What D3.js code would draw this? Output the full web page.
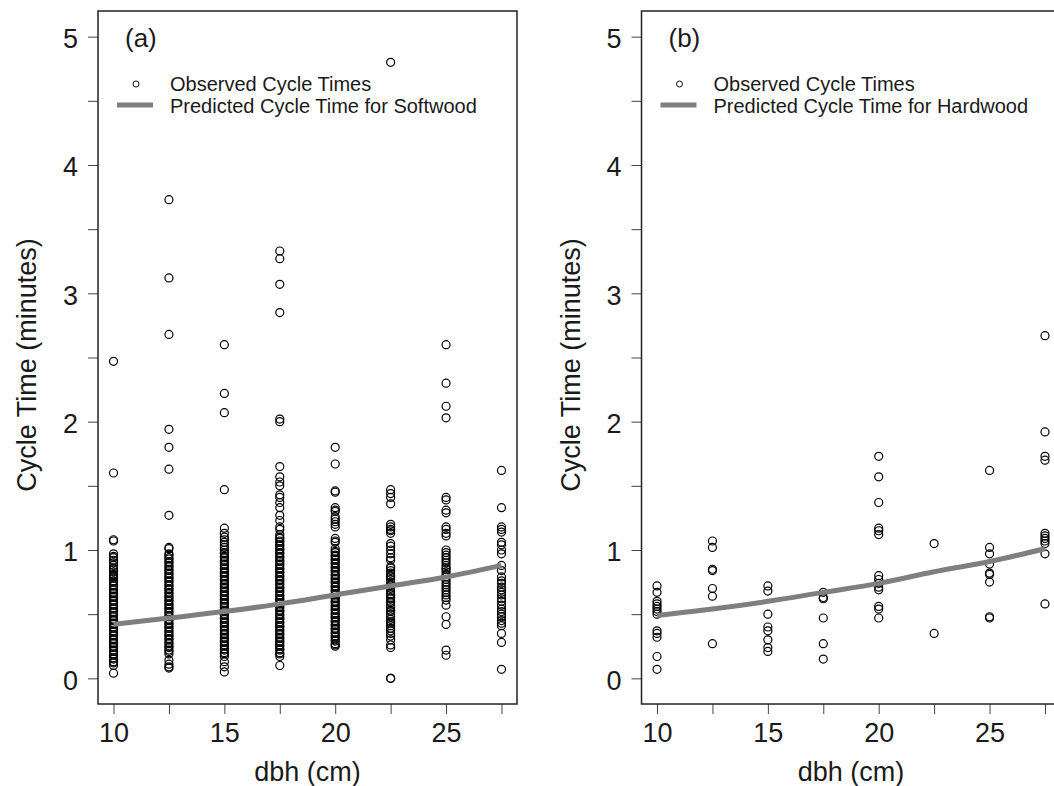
<!DOCTYPE html>
<html>
<head>
<meta charset="utf-8">
<script src="https://cdn.jsdelivr.net/npm/d3@7"></script>
<style>
  body { margin: 0; background: #fff; }
  svg { font-family: "Liberation Sans", Arial, Helvetica, sans-serif; }
</style>
</head>
<body>
<svg id="chart" width="1054" height="786"></svg>
<script>
// dbh classes (cm) used on the x axis
let dbhLevels = [10, 12.5, 15, 17.5, 20, 22.5, 25, 27.5];
let xTickValues = [10, 12.5, 15, 17.5, 20, 22.5, 25, 27.5];
let yTickValues = [0, 0.5, 1, 1.5, 2, 2.5, 3, 3.5, 4, 4.5, 5];

// softwood observed cycle times (minutes), one array per dbh class
let sw10 = [2.47, 1.60, 1.08, 1.07, 0.97, 0.95, 0.94, 0.92, 0.90, 0.88, 0.86, 0.85, 0.83, 0.81, 0.80,
    0.79, 0.78, 0.76, 0.75, 0.73, 0.72, 0.70, 0.69, 0.67, 0.66, 0.64, 0.63, 0.61, 0.60, 0.58, 0.57,
    0.55, 0.54, 0.52, 0.51, 0.49, 0.48, 0.46, 0.45, 0.43, 0.42, 0.40, 0.39, 0.37, 0.36, 0.34, 0.33,
    0.31, 0.30, 0.28, 0.27, 0.25, 0.24, 0.22, 0.21, 0.19, 0.18, 0.16, 0.15, 0.13, 0.12, 0.10, 0.04];
let sw125 = [3.73, 3.12, 2.68, 1.94, 1.80, 1.63, 1.27, 1.02, 1.01,
    0.97, 0.96, 0.94, 0.93, 0.91, 0.90, 0.88, 0.87, 0.85, 0.84, 0.82, 0.81, 0.79, 0.78, 0.76, 0.75,
    0.73, 0.72, 0.70, 0.69, 0.67, 0.66, 0.64, 0.63, 0.61, 0.60, 0.58, 0.57, 0.55, 0.54, 0.52, 0.51,
    0.49, 0.48, 0.46, 0.45, 0.43, 0.42, 0.40, 0.39, 0.37, 0.36, 0.34, 0.33, 0.31, 0.30, 0.28, 0.27,
    0.25, 0.24, 0.22, 0.21, 0.19, 0.14, 0.11, 0.09, 0.08];
let sw15 = [2.60, 2.22, 2.07, 1.47, 1.17, 1.13, 1.10,
    1.08, 1.06, 1.04, 1.02, 1.00, 0.98, 0.97, 0.95, 0.94, 0.92, 0.91, 0.89, 0.88, 0.86, 0.85, 0.83,
    0.82, 0.80, 0.79, 0.77, 0.76, 0.74, 0.73, 0.71, 0.70, 0.68, 0.67, 0.65, 0.64, 0.62, 0.61, 0.59,
    0.58, 0.56, 0.55, 0.53, 0.52, 0.50, 0.49, 0.47, 0.46, 0.44, 0.43, 0.41, 0.40, 0.38, 0.37, 0.35,
    0.34, 0.32, 0.31, 0.29, 0.28, 0.26, 0.25, 0.23, 0.22, 0.20, 0.19, 0.17, 0.13, 0.09, 0.05];
let sw175 = [3.33, 3.27, 3.07, 2.85, 2.02, 2.00, 1.65, 1.57, 1.53, 1.50, 1.43, 1.41, 1.37, 1.33,
    1.27, 1.23, 1.18, 1.16,
    1.12, 1.10, 1.09, 1.07, 1.06, 1.04, 1.03, 1.01, 1.00, 0.98, 0.97, 0.95, 0.94, 0.92, 0.91, 0.89,
    0.88, 0.86, 0.85, 0.83, 0.82, 0.80, 0.79, 0.77, 0.76, 0.74, 0.73, 0.71, 0.70, 0.68, 0.67, 0.65,
    0.64, 0.62, 0.61, 0.59, 0.58, 0.56, 0.55, 0.53, 0.52, 0.50, 0.49, 0.47, 0.46, 0.44, 0.43, 0.41,
    0.40, 0.38, 0.37, 0.35, 0.34, 0.32, 0.31, 0.29, 0.28, 0.26, 0.25, 0.23, 0.22, 0.20, 0.19, 0.17,
    0.10];
let sw20 = [1.80, 1.67, 1.46, 1.45, 1.33, 1.31, 1.30, 1.26, 1.24, 1.22, 1.20, 1.18, 1.09, 1.07, 1.06,
    1.01, 0.99, 0.98, 0.96, 0.95, 0.93, 0.92, 0.90, 0.89, 0.87, 0.86, 0.84, 0.83, 0.81, 0.80, 0.78,
    0.77, 0.75, 0.74, 0.72, 0.71, 0.69, 0.68, 0.66, 0.65, 0.63, 0.62, 0.60, 0.59, 0.57, 0.56, 0.54,
    0.53, 0.51, 0.50, 0.48, 0.47, 0.45, 0.44, 0.42, 0.41, 0.39, 0.38, 0.36, 0.35, 0.33, 0.32, 0.30,
    0.29, 0.27, 0.26, 0.25];
let sw225 = [4.80, 1.47, 1.44, 1.41, 1.36, 1.20, 1.18, 1.16, 1.15, 1.13, 1.05, 1.03, 1.00, 0.97, 0.94,
    0.92, 0.87, 0.86, 0.84, 0.82, 0.80, 0.79, 0.77, 0.75, 0.73, 0.72, 0.70, 0.68, 0.66, 0.65, 0.63,
    0.62, 0.60, 0.59, 0.57, 0.55, 0.53, 0.52, 0.50, 0.48, 0.46, 0.44, 0.43, 0.41, 0.39, 0.37, 0.35,
    0.33, 0.30, 0.26, 0.24, 0.00, 0.00];
let sw25 = [2.60, 2.30, 2.12, 2.03, 1.41, 1.39, 1.31, 1.29, 1.18, 1.16, 1.13, 1.11, 1.00, 0.98, 0.96,
    0.94, 0.92, 0.90, 0.88, 0.86, 0.85, 0.83, 0.81, 0.79, 0.77, 0.75, 0.73, 0.71, 0.69, 0.67, 0.65,
    0.63, 0.61, 0.57, 0.48, 0.42, 0.22, 0.18];
let sw275 = [1.62, 1.33, 1.18, 1.16, 1.14, 1.06, 1.04, 1.00, 0.97, 0.88, 0.84, 0.79, 0.76, 0.74, 0.71,
    0.69, 0.67, 0.65, 0.62, 0.60, 0.57, 0.54, 0.52, 0.50, 0.48, 0.45, 0.43, 0.41, 0.35, 0.28, 0.07];

// hardwood observed cycle times (minutes)
let hw10 = [0.72, 0.67, 0.60, 0.58, 0.56, 0.54, 0.52, 0.50, 0.37, 0.35, 0.32, 0.17, 0.07];
let hw125 = [1.07, 1.02, 0.85, 0.84, 0.70, 0.64, 0.27];
let hw15 = [0.72, 0.68, 0.50, 0.40, 0.37, 0.30, 0.24, 0.21];
let hw175 = [0.67, 0.63, 0.62, 0.47, 0.27, 0.15];
let hw20 = [1.73, 1.57, 1.37, 1.17, 1.15, 1.12, 0.80, 0.77, 0.74, 0.71, 0.69, 0.56, 0.54, 0.47];
let hw225 = [1.05, 0.35];
let hw25 = [1.62, 1.02, 0.97, 0.89, 0.82, 0.81, 0.75, 0.48, 0.47];
let hw275 = [2.67, 1.92, 1.73, 1.70, 1.13, 1.11, 1.09, 1.07, 1.05, 0.97, 0.58];

// predicted cycle time at each dbh class
let predSoftwood = [0.42, 0.47, 0.52, 0.58, 0.65, 0.72, 0.79, 0.88];
let predHardwood = [0.49, 0.54, 0.60, 0.67, 0.74, 0.83, 0.91, 1.01];

let svg = d3.select("#chart");
let plotTop = 11, plotBottom = 704, plotWidth = 419;
let textColor = "#1a1a1a";

let y = d3.scaleLinear().domain([-0.2, 5.2]).range([plotBottom, plotTop]);

function drawPanel(left, columns, pred, tag, predLabel) {
    let x = d3.scaleLinear().domain([9.3, 28.2]).range([left, left + plotWidth]);
    let g = svg.append("g");

    // flatten observations
    let points = [];
    for (let i = 0; i < columns.length; i++) {
        columns[i].forEach(function (v) {
            points.push({dbh: dbhLevels[i], t: v});
        });
    }

    g.append("g").selectAll("circle")
        .data(points)
        .join("circle")
        .attr("cx", d => x(d.dbh))
        .attr("cy", d => y(d.t))
        .attr("r", 4)
        .attr("fill", "none")
        .attr("stroke", "#000")
        .attr("stroke-width", 1.2);

    let line = d3.line()
        .x((d, i) => x(dbhLevels[i]))
        .y(d => y(d))
        .curve(d3.curveMonotoneX);
    g.append("path")
        .datum(pred)
        .attr("d", line)
        .attr("fill", "none")
        .attr("stroke", "#7f7f7f")
        .attr("stroke-width", 5);

    // axes
    let xAxis = d3.axisBottom(x)
        .tickValues(xTickValues)
        .tickSize(10)
        .tickPadding(9)
        .tickFormat(d => (d % 5 === 0 ? d : ""));
    let gx = g.append("g")
        .attr("transform", "translate(0," + plotBottom + ")")
        .call(xAxis);

    let yAxis = d3.axisLeft(y)
        .tickValues(yTickValues)
        .tickSize(10)
        .tickPadding(10)
        .tickFormat(d => (Number.isInteger(d) ? d : ""));
    let gy = g.append("g")
        .attr("transform", "translate(" + left + ",0)")
        .call(yAxis);

    [gx, gy].forEach(function (a) {
        a.select(".domain").remove();
        a.selectAll(".tick line").attr("stroke", "#444").attr("stroke-width", 1);
        a.selectAll(".tick text")
            .attr("fill", textColor)
            .style("font-size", "27px");
    });
    gy.selectAll(".tick text").attr("dy", "0.4em");

    // box
    g.append("rect")
        .attr("x", left)
        .attr("y", plotTop)
        .attr("width", plotWidth)
        .attr("height", plotBottom - plotTop)
        .attr("fill", "none")
        .attr("stroke", "#222")
        .attr("stroke-width", 1.5);

    // axis titles
    g.append("text")
        .attr("x", left + plotWidth / 2)
        .attr("y", 781)
        .attr("text-anchor", "middle")
        .attr("fill", textColor)
        .style("font-size", "27px")
        .text("dbh (cm)");
    g.append("text")
        .attr("transform", "translate(" + (left - 62) + "," + 365 + ") rotate(-90)")
        .attr("text-anchor", "middle")
        .attr("fill", textColor)
        .style("font-size", "27px")
        .text("Cycle Time (minutes)");

    // panel tag and legend
    g.append("text")
        .attr("x", left + 27)
        .attr("y", 47)
        .attr("fill", textColor)
        .style("font-size", "26px")
        .text(tag);

    g.append("circle")
        .attr("cx", left + 38)
        .attr("cy", 84)
        .attr("r", 3)
        .attr("fill", "none")
        .attr("stroke", "#111")
        .attr("stroke-width", 1);
    g.append("line")
        .attr("x1", left + 19)
        .attr("x2", left + 55)
        .attr("y1", 105)
        .attr("y2", 105)
        .attr("stroke", "#7f7f7f")
        .attr("stroke-width", 5);
    g.append("text")
        .attr("x", left + 72)
        .attr("y", 91)
        .attr("fill", textColor)
        .style("font-size", "20px")
        .text("Observed Cycle Times");
    g.append("text")
        .attr("x", left + 72)
        .attr("y", 113)
        .attr("fill", textColor)
        .style("font-size", "20px")
        .text(predLabel);
}

drawPanel(98, [sw10, sw125, sw15, sw175, sw20, sw225, sw25, sw275], predSoftwood,
    "(a)", "Predicted Cycle Time for Softwood");
drawPanel(641.5, [hw10, hw125, hw15, hw175, hw20, hw225, hw25, hw275], predHardwood,
    "(b)", "Predicted Cycle Time for Hardwood");
</script>
</body>
</html>
